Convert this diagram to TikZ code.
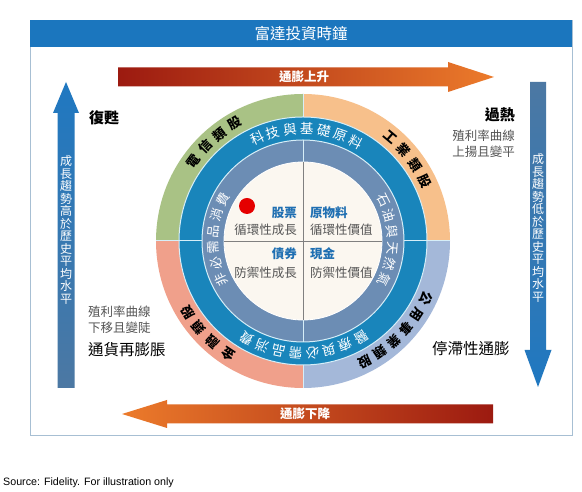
\documentclass[tikz,border=0pt]{standalone}
\usepackage{fontspec}
\setmainfont{Liberation Sans}
\newfontfamily\cjk{Noto Sans CJK TC}
\usepackage{tikz}
\usepackage{xcolor}

\definecolor{titleblue}{HTML}{1B76BE}
\definecolor{framegray}{HTML}{A7BFD3}
\definecolor{darkred}{HTML}{9C1A10}
\definecolor{flame}{HTML}{EC7B2B}
\definecolor{brightblue}{HTML}{1F78C1}
\definecolor{steelblue}{HTML}{4C78A3}
\definecolor{telgreen}{HTML}{A9C285}
\definecolor{indorange}{HTML}{F7C08B}
\definecolor{utilblue}{HTML}{A4B8D9}
\definecolor{finsalmon}{HTML}{F0A08B}
\definecolor{techteal}{HTML}{1985BB}
\definecolor{oilslate}{HTML}{6C8DB4}
\definecolor{clockcream}{HTML}{FBF7F0}
\definecolor{assetblue}{HTML}{1F6FB2}
\definecolor{notegray}{HTML}{555555}
\definecolor{gapline}{HTML}{D6EEF8}

% characters set one by one round the clock face
\newcommand{\ringlabel}[6]{%
  \foreach \ch [count=\k] in {#6} {%
    \pgfmathsetmacro\ringang{#4-(\k-1)*#5}
    \node[#2, rotate=\ringang-90] (#1-\k) at (\ringang:#3) {\ch};
  }}

\begin{document}
\begin{tikzpicture}[x=1pt, y=1pt]
    % Styles for texts and rings
    \tikzstyle{title} = [font=\cjk\fontsize{15.5}{17}\selectfont, text=white, inner sep=0pt]
    \tikzstyle{arrowtext} = [font=\cjk\bfseries\fontsize{12.5}{14}\selectfont, text=white, inner sep=0pt]
    \tikzstyle{trendtext} = [font=\cjk\fontsize{12}{12.5}\selectfont, text=white, align=center, inner sep=0pt]
    \tikzstyle{phase} = [font=\cjk\bfseries\fontsize{15}{17}\selectfont, inner sep=0pt]
    \tikzstyle{phaselight} = [font=\cjk\fontsize{15.5}{17}\selectfont, inner sep=0pt]
    \tikzstyle{curvenote} = [font=\cjk\fontsize{12.5}{16}\selectfont, text=notegray, inner sep=0pt]
    \tikzstyle{sectorchar} = [font=\cjk\bfseries\fontsize{13}{13}\selectfont, inner sep=0pt]
    \tikzstyle{stylechar} = [font=\cjk\fontsize{13.5}{13.5}\selectfont, text=white, inner sep=0pt]
    \tikzstyle{groupchar} = [font=\cjk\fontsize{13}{13}\selectfont, text=white, inner sep=0pt]
    \tikzstyle{asset} = [font=\cjk\bfseries\fontsize{12.5}{14}\selectfont, text=assetblue, inner sep=0pt]
    \tikzstyle{assetnote} = [font=\cjk\fontsize{12.5}{14}\selectfont, text=notegray, inner sep=0pt]
    \tikzstyle{ringgap} = [gapline, line width=1pt]

    \useasboundingbox (0,0) rectangle (582,492);
    \fill[white] (0,0) rectangle (582,492);

  % Frame and title bar
    \draw[framegray, line width=0.8pt] (30,57) rectangle (572,472);
    \fill[titleblue] (30,445) rectangle (572,472);
    \node[title] (clocktitle) at (301,458) {富達投資時鐘};

  % Inflation arrows
    \shade[left color=darkred, right color=flame] (118,405.5) -- (448,405.5) -- (448,400) -- (494,415) -- (448,430) -- (448,424.5) -- (118,424.5) -- cycle;
    \node[arrowtext] (influp) at (304,415) {通膨上升};
    \shade[left color=flame, right color=darkred] (493,68.5) -- (167,68.5) -- (167,64) -- (122,78) -- (167,92) -- (167,87.5) -- (493,87.5) -- cycle;
    \node[arrowtext] (infldown) at (305,78) {通膨下降};

  % Growth arrows
    \shade[top color=brightblue, bottom color=steelblue] (57.5,104) -- (57.5,379) -- (53,379) -- (66,410) -- (79,379) -- (74.5,379) -- (74.5,104) -- cycle;
    \node[trendtext] (growthup) at (66,262) {成\\長\\趨\\勢\\高\\於\\歷\\史\\平\\均\\水\\平};
    \shade[top color=steelblue, bottom color=brightblue] (530,410) -- (530,142) -- (524.5,142) -- (538,105) -- (551.5,142) -- (546,142) -- (546,410) -- cycle;
    \node[trendtext] (growthdown) at (538,264) {成\\長\\趨\\勢\\低\\於\\歷\\史\\平\\均\\水\\平};

  % Phases of the cycle
    \node[phase, anchor=west] (recovery) at (89,374) {復甦};
    \node[phase, anchor=east] (overheat) at (515,377) {過熱};
    \node[curvenote, align=right, anchor=east] (overheatnote) at (515,348) {殖利率曲線\\上揚且變平};
    \node[curvenote, align=left, anchor=west] (reflationnote) at (88,172) {殖利率曲線\\下移且變陡};
    \node[phaselight, anchor=west] (reflation) at (88,142) {通貨再膨脹};
    \node[phaselight, anchor=west] (stagflation) at (432,143) {停滯性通膨};

  % Clock face
  \begin{scope}[shift={(303,251)}]
    \fill[indorange] (0,0) -- (0:147) arc[start angle=0, end angle=90, radius=147] -- cycle;
    \fill[telgreen] (0,0) -- (90:147) arc[start angle=90, end angle=180, radius=147] -- cycle;
    \fill[finsalmon] (0,0) -- (180:147) arc[start angle=180, end angle=270, radius=147] -- cycle;
    \fill[utilblue] (0,0) -- (270:147) arc[start angle=270, end angle=360, radius=147] -- cycle;
    \fill[techteal] (0,0) circle[radius=124];
    \fill[oilslate] (0,0) circle[radius=101];
    \fill[clockcream] (0,0) circle[radius=79];

    \draw[ringgap] (0,0) circle[radius=124];
    \draw[ringgap] (0,0) circle[radius=101];
    \draw[white, line width=0.8pt] (0,0) circle[radius=79];
    \draw[ringgap] (90:124) -- (90:147);
    \draw[ringgap] (180:101) -- (180:147);
    \draw[ringgap] (0:101) -- (0:147);
    \draw[ringgap] (270:124) -- (270:147);
    \draw[ringgap] (90:79) -- (90:101);
    \draw[ringgap] (270:79) -- (270:101);

    \ringlabel{tel}{sectorchar}{135.5}{144}{8}{電,信,類,股}
    \ringlabel{ind}{sectorchar}{135.5}{50}{8}{工,業,類,股}
    \ringlabel{util}{sectorchar}{135.5}{-25}{7.6}{公,用,事,業,類,股}
    \ringlabel{fin}{sectorchar}{135.5}{236.5}{8.3}{金,融,類,股}
    \ringlabel{tech}{stylechar}{112.5}{114.1}{8.7}{科,技,與,基,礎,原,料}
    \ringlabel{health}{stylechar}{112.5}{-59}{8.7}{醫,療,與,必,需,品,消,費}
    \ringlabel{cons}{groupchar}{90}{205.25}{10.5}{非,必,需,品,消,費}
    \ringlabel{oil}{groupchar}{90}{26.85}{10.5}{石,油,與,天,然,氣}

    \draw[gray, line width=0.6pt] (0,79) -- (0,-79);
    \draw[gray, line width=0.6pt] (-79,0) -- (79,0);

    \fill[red!90!black] (-56,35) circle[radius=8];
    \node[asset, anchor=east] (stocks) at (-6,28) {股票};
    \node[assetnote, anchor=east] (stocksnote) at (-6,11) {循環性成長};
    \node[asset, anchor=west] (commod) at (7,28) {原物料};
    \node[assetnote, anchor=west] (commodnote) at (7,11) {循環性價值};
    \node[asset, anchor=east] (bonds) at (-6,-13) {債券};
    \node[assetnote, anchor=east] (bondsnote) at (-6,-32) {防禦性成長};
    \node[asset, anchor=west] (cash) at (7,-13) {現金};
    \node[assetnote, anchor=west] (cashnote) at (7,-32) {防禦性價值};
  \end{scope}

  % Source line
    \node[anchor=west, font=\fontsize{10.7}{12}\selectfont, inner sep=0pt] (source) at (3,9) {Source: Fidelity. For illustration only};

\end{tikzpicture}
\end{document}
